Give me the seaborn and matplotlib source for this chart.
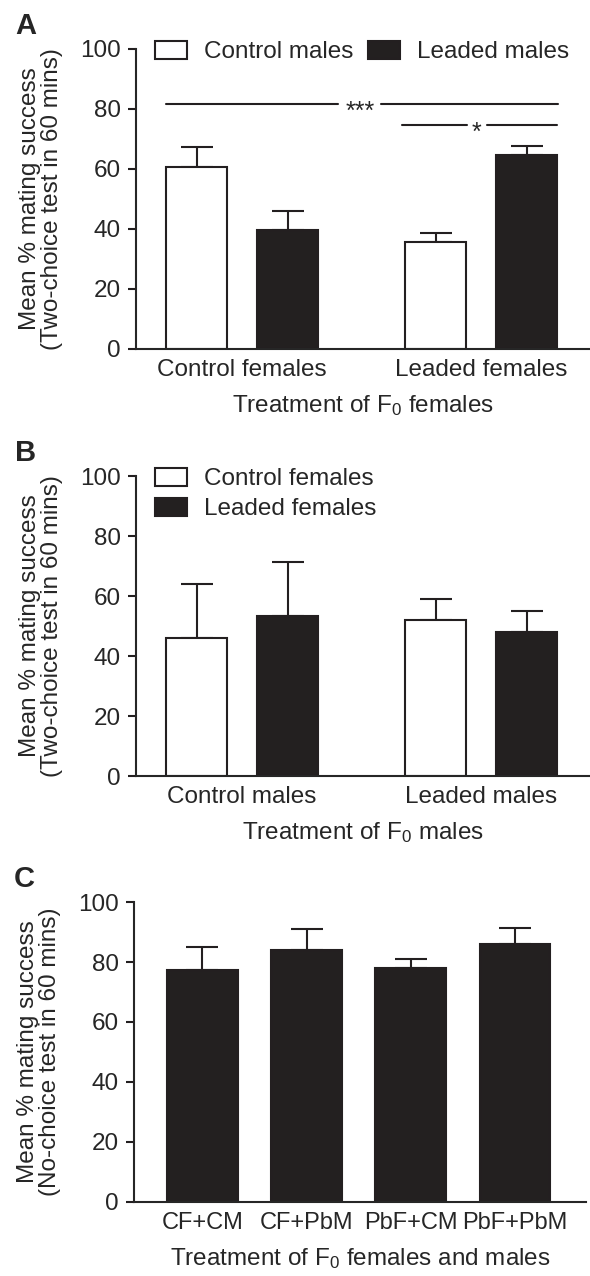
import numpy as np
import pandas as pd
import matplotlib
matplotlib.use("Agg")
import matplotlib.pyplot as plt
import seaborn as sns

# Panel A: Wahl der F0-Weibchen
a_groups = ["Control females", "Leaded females"]
a_hue = ["Control males", "Leaded males"]
a_mean_control = [60.7, 35.5]
a_mean_leaded = [39.5, 64.7]
a_sem_control = [6.6, 3.0]
a_sem_leaded = [6.5, 3.0]

# Panel B: Wahl der F0-Männchen
b_groups = ["Control males", "Leaded males"]
b_hue = ["Control females", "Leaded females"]
b_mean_control = [46.0, 52.0]
b_mean_leaded = [53.5, 48.0]
b_sem_control = [18.0, 7.0]
b_sem_leaded = [17.7, 7.0]

# Panel C: No-choice
c_groups = ["CF+CM", "CF+PbM", "PbF+CM", "PbF+PbM"]
c_mean = [77.5, 84.0, 78.0, 86.0]
c_sem = [7.5, 7.0, 3.0, 5.5]

sns.set_theme(style="ticks")
plt.rcParams["font.family"] = ["Liberation Sans", "DejaVu Sans"]
plt.rcParams["mathtext.default"] = "regular"
plt.rcParams["axes.linewidth"] = 1.5

FS = 17.5
DARK = "#231f20"


def long_df(groups, hue, m0, m1, s0, s1):
    return pd.DataFrame({
        "group": groups * 2,
        "hue": [hue[0]] * len(groups) + [hue[1]] * len(groups),
        "mean": m0 + m1,
        "sem": s0 + s1,
    })


def style_axis(ax, ylabel, xlabel, letter, xfs=FS):
    ax.set_ylim(0, 100)
    ax.set_yticks([0, 20, 40, 60, 80, 100])
    ax.tick_params(axis="y", labelsize=FS, length=6, width=1.5, pad=5, color=DARK)
    ax.tick_params(axis="x", labelsize=xfs, length=0, pad=7)
    ax.set_ylabel(ylabel, fontsize=FS, linespacing=1.0, labelpad=12)
    ax.set_xlabel(xlabel, fontsize=FS, labelpad=9)
    sns.despine(ax=ax)
    ax.text(-0.2665, 1.05, letter, transform=ax.transAxes, fontsize=21,
            fontweight="bold", va="baseline")


def add_errors(ax, df):
    bars = [p for p in ax.patches if p.get_height() > 0]
    # Reihenfolge der Balken = hue-Reihenfolge, dann Gruppen
    for bar, err in zip(bars, df["sem"]):
        x = bar.get_x() + bar.get_width() / 2
        top = bar.get_height()
        ax.errorbar(x, top, yerr=[[0], [err]], color=DARK, lw=1.5,
                    capsize=11.5, capthick=1.5, zorder=1)


fig = plt.figure(figsize=(5.9, 12.76), dpi=100)
ax_a = fig.add_axes([0.2305, 0.7265, 0.7695, 0.2351])
ax_b = fig.add_axes([0.2305, 0.3918, 0.7695, 0.2351])
ax_c = fig.add_axes([0.227, 0.0580, 0.766, 0.2351])

leg_kw = dict(loc="upper left", frameon=False, fontsize=FS, handlelength=1.32,
              handleheight=0.78, handletextpad=0.7, borderaxespad=0)

# A
df_a = long_df(a_groups, a_hue, a_mean_control, a_mean_leaded, a_sem_control, a_sem_leaded)
sns.barplot(data=df_a, x="group", y="mean", hue="hue", order=a_groups, hue_order=a_hue,
            palette=["white", DARK], edgecolor=DARK, linewidth=1.5,
            width=0.762, gap=0.33, errorbar=None, ax=ax_a, zorder=2)
add_errors(ax_a, df_a)
ax_a.set_xlim(-0.444, 1.456)
style_axis(ax_a, "Mean % mating success\n(Two-choice test in 60 mins)",
           "Treatment of F$_0$ females", "A")
ax_a.legend(bbox_to_anchor=(0.0205, 1.06), ncol=2, columnspacing=0.58, **leg_kw)
# Signifikanzlinien (Linie mit Lücke für die Sterne)
ax_a.plot([-0.318, 0.402], [81.7, 81.7], color=DARK, lw=1.5)
ax_a.plot([0.582, 1.322], [81.7, 81.7], color=DARK, lw=1.5)
ax_a.text(0.494, 76.8, "***", ha="center", va="baseline", fontsize=18)
ax_a.plot([0.669, 0.941], [74.7, 74.7], color=DARK, lw=1.5)
ax_a.plot([1.025, 1.318], [74.7, 74.7], color=DARK, lw=1.5)
ax_a.text(0.983, 69.6, "*", ha="center", va="baseline", fontsize=18)

# B
df_b = long_df(b_groups, b_hue, b_mean_control, b_mean_leaded, b_sem_control, b_sem_leaded)
sns.barplot(data=df_b, x="group", y="mean", hue="hue", order=b_groups, hue_order=b_hue,
            palette=["white", DARK], edgecolor=DARK, linewidth=1.5,
            width=0.762, gap=0.33, errorbar=None, ax=ax_b, zorder=2)
add_errors(ax_b, df_b)
ax_b.set_xlim(-0.444, 1.456)
style_axis(ax_b, "Mean % mating success\n(Two-choice test in 60 mins)",
           "Treatment of F$_0$ males", "B")
ax_b.legend(bbox_to_anchor=(0.0205, 1.06), ncol=1, labelspacing=0.3, **leg_kw)

# C
df_c = pd.DataFrame({"group": c_groups, "mean": c_mean, "sem": c_sem})
sns.barplot(data=df_c, x="group", y="mean", order=c_groups, color=DARK,
            edgecolor=DARK, linewidth=1.5, width=0.68, errorbar=None,
            ax=ax_c, zorder=2)
add_errors(ax_c, df_c)
ax_c.set_xlim(-0.657, 3.68)
style_axis(ax_c, "Mean % mating success\n(No-choice test in 60 mins)",
           "Treatment of F$_0$ females and males", "C", xfs=17)

fig.savefig("out.png", dpi=100)
